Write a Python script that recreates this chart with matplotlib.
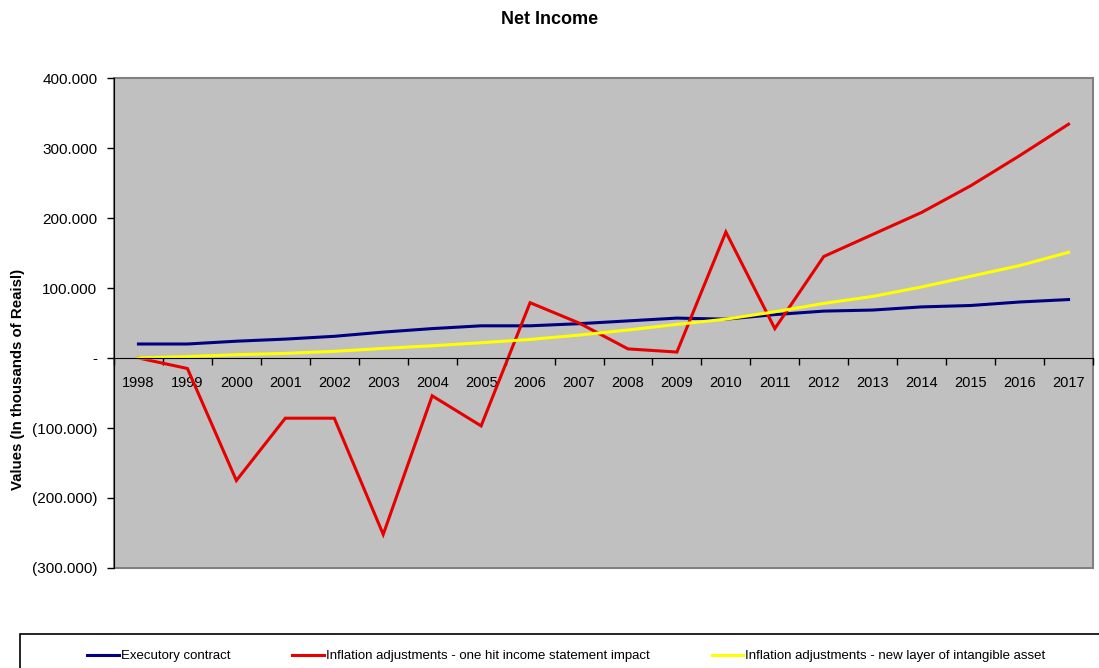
import matplotlib
matplotlib.use("Agg")
import matplotlib.pyplot as plt
from matplotlib.patches import Rectangle
from matplotlib.ticker import FuncFormatter, FixedLocator

plt.rcParams['font.family'] = ['Liberation Sans', 'DejaVu Sans']

years = [str(y) for y in range(1998, 2018)]

executory = [20000, 20000, 24000, 27000, 31000, 37000, 42000, 46000, 46000, 49000,
             53000, 57000, 55500, 62000, 67000, 68500, 73000, 75000, 80000, 83500]
one_hit = [0, -15000, -175000, -86000, -86000, -252000, -54000, -97000, 79000, 50000,
           13000, 8500, 180000, 42000, 145000, 176500, 208000, 246000, 289000, 334000]
new_layer = [0, 2000, 4700, 6600, 9500, 13700, 17500, 21800, 26500, 32700,
             40000, 48000, 55500, 66000, 78000, 88000, 101500, 116700, 132000, 151000]

series_names = ["Executory contract",
                "Inflation adjustments - one hit income statement impact",
                "Inflation adjustments - new layer of intangible asset"]
colors = ["#000080", "#e60000", "#ffff00"]

W, H = 1099, 668
fig = plt.figure(figsize=(W / 100, H / 100), dpi=100)
ax = fig.add_axes([114 / W, 1 - 568 / H, (1093 - 114) / W, (568 - 78) / H])
ax.set_facecolor("#c0c0c0")

x = list(range(len(years)))
for vals, name, c in zip([executory, one_hit, new_layer], series_names, colors):
    ax.plot(x, vals, color=c, lw=2.2, label=name, solid_joinstyle="miter")

ax.set_xlim(-0.5, len(years) - 0.5)
ax.set_ylim(-300000, 400000)


def reais(v, pos):
    if abs(v) < 1:
        return "-"
    s = f"{abs(v):,.0f}".replace(",", ".")
    return f"({s})" if v < 0 else s


ax.yaxis.set_major_locator(FixedLocator(range(-300000, 400001, 100000)))
ax.yaxis.set_major_formatter(FuncFormatter(reais))
ax.tick_params(axis="y", direction="out", length=5, width=1, pad=7, labelsize=11)

# category axis crosses at zero: boundary ticks, labels centred between them
ax.spines["bottom"].set_position(("data", 0))
ax.spines["bottom"].set_color("black")
ax.xaxis.set_major_locator(FixedLocator([i - 0.5 for i in range(len(years) + 1)]))
ax.xaxis.set_minor_locator(FixedLocator(x))
ax.xaxis.set_major_formatter(FuncFormatter(lambda v, p: ""))
ax.xaxis.set_minor_formatter(FuncFormatter(lambda v, p: years[int(round(v))]))
ax.tick_params(axis="x", which="major", direction="out", length=5, width=1)
ax.tick_params(axis="x", which="minor", length=0, pad=13, labelsize=10.5)

for side in ["top", "right"]:
    ax.spines[side].set_visible(False)
ax.add_patch(Rectangle((0, 0), 1, 1, transform=ax.transAxes, fill=False,
                       edgecolor="#808080", lw=1.5, zorder=1, clip_on=False))
ax.spines["left"].set_zorder(3)

fig.text(550 / W, 1 - 20 / H, "Net Income", ha="center", va="center",
         fontsize=13, fontweight="bold")
fig.text(18 / W, 1 - 379 / H, "Values (In thousands of Reaisl)", rotation=90,
         ha="center", va="center", fontsize=10.8, fontweight="bold")

# legend box runs off the bottom-right edge
fig.patches.append(Rectangle((20 / W, -0.1), 1.2, (1 - 634 / H) + 0.1,
                             transform=fig.transFigure, fill=False,
                             edgecolor="black", lw=1.2))
handles, labels = ax.get_legend_handles_labels()
fig.legend(handles, labels, loc="center left", bbox_to_anchor=(87 / W, 1 - 656 / H),
           ncol=3, frameon=False, fontsize=9.5, handlelength=2.4,
           handletextpad=0.15, columnspacing=4.7, borderpad=0, borderaxespad=0)

fig.savefig("out.png", dpi=100)
